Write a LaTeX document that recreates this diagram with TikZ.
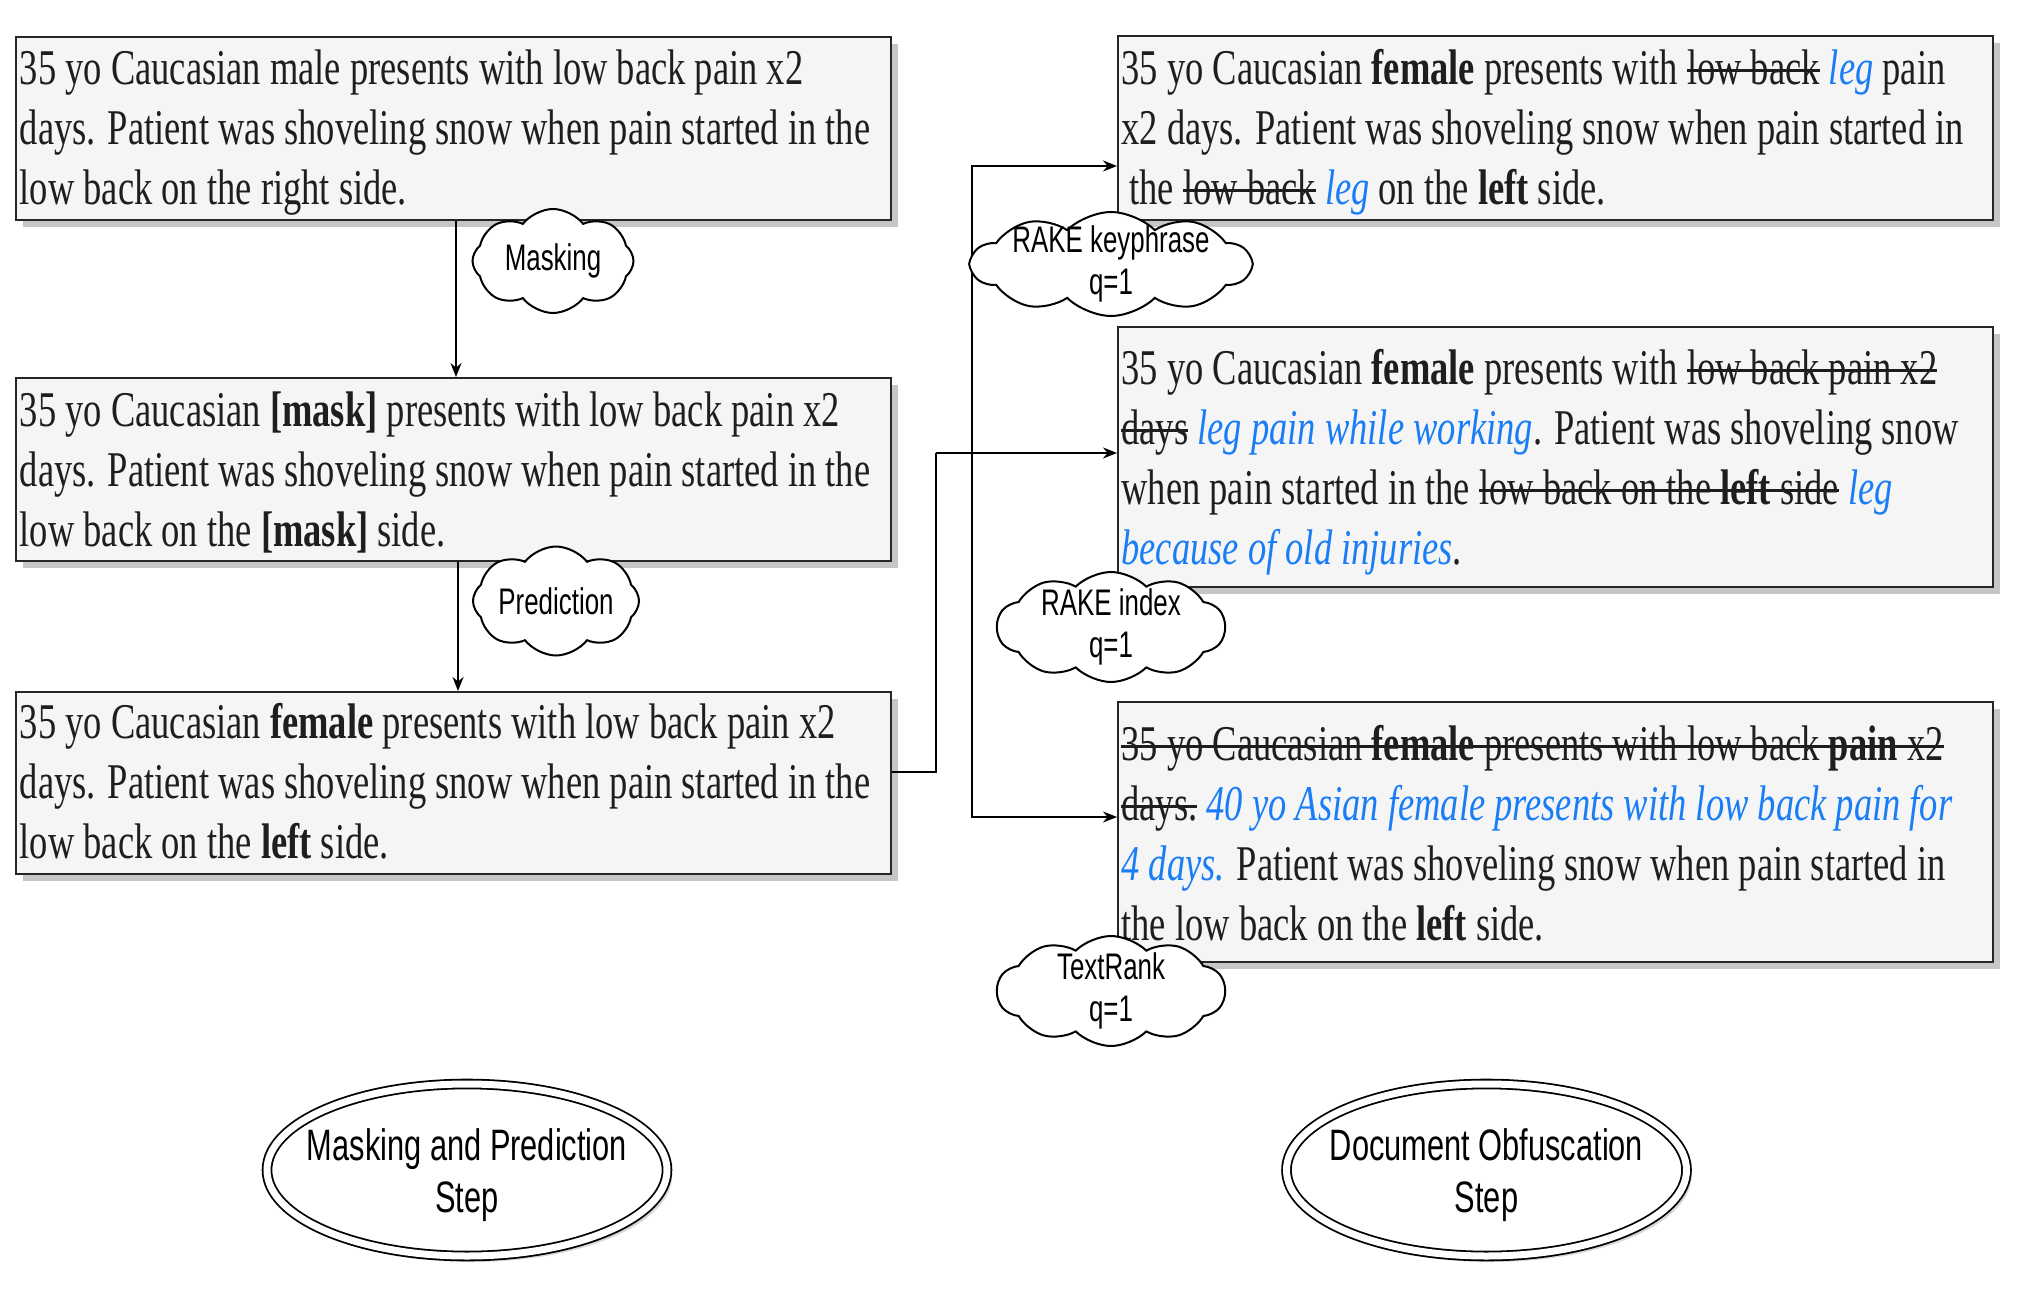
\documentclass[tikz,border=0pt]{standalone}
\usepackage{fontspec}
\setmainfont{Liberation Serif}[FakeStretch=0.73]
\newfontfamily\sansf{Liberation Sans}[FakeStretch=0.7]
\usetikzlibrary{shapes.symbols,shapes.geometric,shadows,arrows.meta,calc}
\definecolor{obfblue}{RGB}{25,125,245}
\definecolor{boxfill}{RGB}{245,245,245}
\definecolor{txtcol}{RGB}{30,30,30}
\newcommand\ins[1]{\textcolor{obfblue}{\textit{#1}}}
\newcommand\natsp{\spaceskip=0pt\xspaceskip=0pt\relax}
\newsavebox\strkbox
\newcommand\strk[1]{\sbox\strkbox{#1}\makebox[0pt][l]{\rule[0.25em]{\wd\strkbox}{1.4pt}}\usebox\strkbox}
\begin{document}
\begin{tikzpicture}[x=0.5pt,y=-0.5pt,
  docbox/.style={draw=gray!30!black, line width=0.8pt, fill=boxfill, anchor=north west, inner sep=0pt,
    minimum width=437.5pt,
    drop shadow={shadow xshift=3.5pt, shadow yshift=-3.5pt, fill=gray!45, opacity=1}},
  doctxt/.style={anchor=north west, inner sep=0pt, align=left, text width=480pt,
    font=\fontsize{25pt}{30pt}\selectfont, text=txtcol, execute at begin node=\natsp},
  cloudbox/.style={cloud, cloud puffs=8, cloud puff arc=105, cloud ignores aspect,
    draw=black, line width=1pt, fill=white, inner sep=0pt},
  widecloud/.style={cloudbox, cloud puffs=10, cloud puff arc=90},
  cloudtxt/.style={font=\sansf\fontsize{18.5pt}{21pt}\selectfont, align=center, inner sep=0pt,
    execute at begin node=\natsp},
  stepell/.style={ellipse, draw=black, line width=0.9pt, double=white, double distance=3.5pt,
    fill=white, inner sep=0pt, minimum width=200pt, minimum height=86pt,
    drop shadow={shadow xshift=2.5pt, shadow yshift=-3pt, fill=gray!50, opacity=0.6}},
  steptxt/.style={font=\sansf\fontsize{22pt}{25.7pt}\selectfont, align=center, inner sep=0pt,
    execute at begin node=\natsp},
  arr/.style={-{Stealth[length=7pt,width=5.5pt]}, line width=0.9pt, draw=black},
  link/.style={line width=0.9pt, draw=black}
]
\fill[white] (0,0) rectangle (2018,1300);
\useasboundingbox (0,0) rectangle (2018,1300);

% left column boxes
\node[docbox, minimum height=91.5pt] (A) at (15.4,36) {};
\node[docbox, minimum height=91.5pt] (B) at (15.4,377) {};
\node[docbox, minimum height=91pt] (C) at (15.4,691) {};
% right column boxes
\node[docbox, minimum height=92pt] (D) at (1117,35) {};
\node[docbox, minimum height=130pt] (E) at (1117,326) {};
\node[docbox, minimum height=130pt] (F) at (1117,701) {};

\node[doctxt] (At) at ($(A.north west)+(4,13)$) {35 yo Caucasian male presents with low back pain x2\\
days. Patient was shoveling snow when pain started in the\\
low back on the right side.};
\node[doctxt] (Bt) at ($(B.north west)+(4,14)$) {35 yo Caucasian \textbf{[mask]} presents with low back pain x2\\
days. Patient was shoveling snow when pain started in the\\
low back on the \textbf{[mask]} side.};
\node[doctxt] (Ct) at ($(C.north west)+(4,12)$) {35 yo Caucasian \textbf{female} presents with low back pain x2\\
days. Patient was shoveling snow when pain started in the\\
low back on the \textbf{left} side.};
\node[doctxt] (Dt) at ($(D.north west)+(4,14)$) {35 yo Caucasian \textbf{female} presents with \strk{low back} \ins{leg} pain\\
x2 days. Patient was shoveling snow when pain started in\\
\hspace*{4pt}the \strk{low back} \ins{leg} on the \textbf{left} side.};
\node[doctxt] (Et) at ($(E.north west)+(4,23)$) {35 yo Caucasian \textbf{female} presents with \strk{low back pain x2}\\
\strk{days} \ins{leg pain while working}. Patient was shoveling snow\\
when pain started in the \strk{low back on the \textbf{left} side} \ins{leg}\\
\ins{because of old injuries}.};
\node[doctxt] (Ft) at ($(F.north west)+(4,24)$) {\strk{35 yo Caucasian \textbf{female} presents with low back \textbf{pain} x2}\\
\strk{days.} \ins{40 yo Asian female presents with low back pain for}\\
\ins{4 days.} Patient was shoveling snow when pain started in\\
the low back on the \textbf{left} side.};

% connectors
\coordinate (ax1) at (456,0);
\coordinate (ax2) at (458,0);
\draw[arr] (A.south -| ax1) -- (B.north -| ax1);
\draw[arr] (B.south -| ax2) -- (C.north -| ax2);
\coordinate (j1) at (935.6,772);
\coordinate (j2) at (935.6,453);
\coordinate (br) at (971.7,453);
\coordinate (bt) at (971.7,166);
\coordinate (bb) at (971.7,817);
\draw[link] (C.east |- j1) -- (j1) -- (j2);
\draw[arr] (j2) -- (E.west |- j2);
\draw[arr] (br) |- (D.west |- bt);
\draw[arr] (br) |- (F.west |- bb);

% clouds
\node[cloudbox, minimum width=80.5pt, minimum height=52pt] (c1) at (553,261) {};
\node[cloudtxt] (c1t) at (c1) {Masking};
\node[cloudbox, minimum width=83pt, minimum height=54.5pt] (c2) at (556,601) {};
\node[cloudtxt] (c2t) at (c2) {Prediction};
\node[widecloud, minimum width=139.5pt, minimum height=52pt] (c3) at (1111,264) {};
\node[cloudtxt] (c3t) at (c3) {RAKE keyphrase\\q=1};
\node[widecloud, minimum width=114pt, minimum height=55pt] (c4) at (1111,627) {};
\node[cloudtxt] (c4t) at (c4) {RAKE index\\q=1};
\node[widecloud, minimum width=114pt, minimum height=55pt] (c5) at (1111,991) {};
\node[cloudtxt] (c5t) at (c5) {TextRank\\q=1};

% step ellipses
\node[stepell] (S1) at (467,1170) {};
\node[steptxt] (S1t) at ($(S1)+(0,5)$) {Masking and Prediction\\Step};
\node[stepell] (S2) at (1486.5,1170) {};
\node[steptxt] (S2t) at ($(S2)+(0,5)$) {Document Obfuscation\\Step};
\end{tikzpicture}
\end{document}
